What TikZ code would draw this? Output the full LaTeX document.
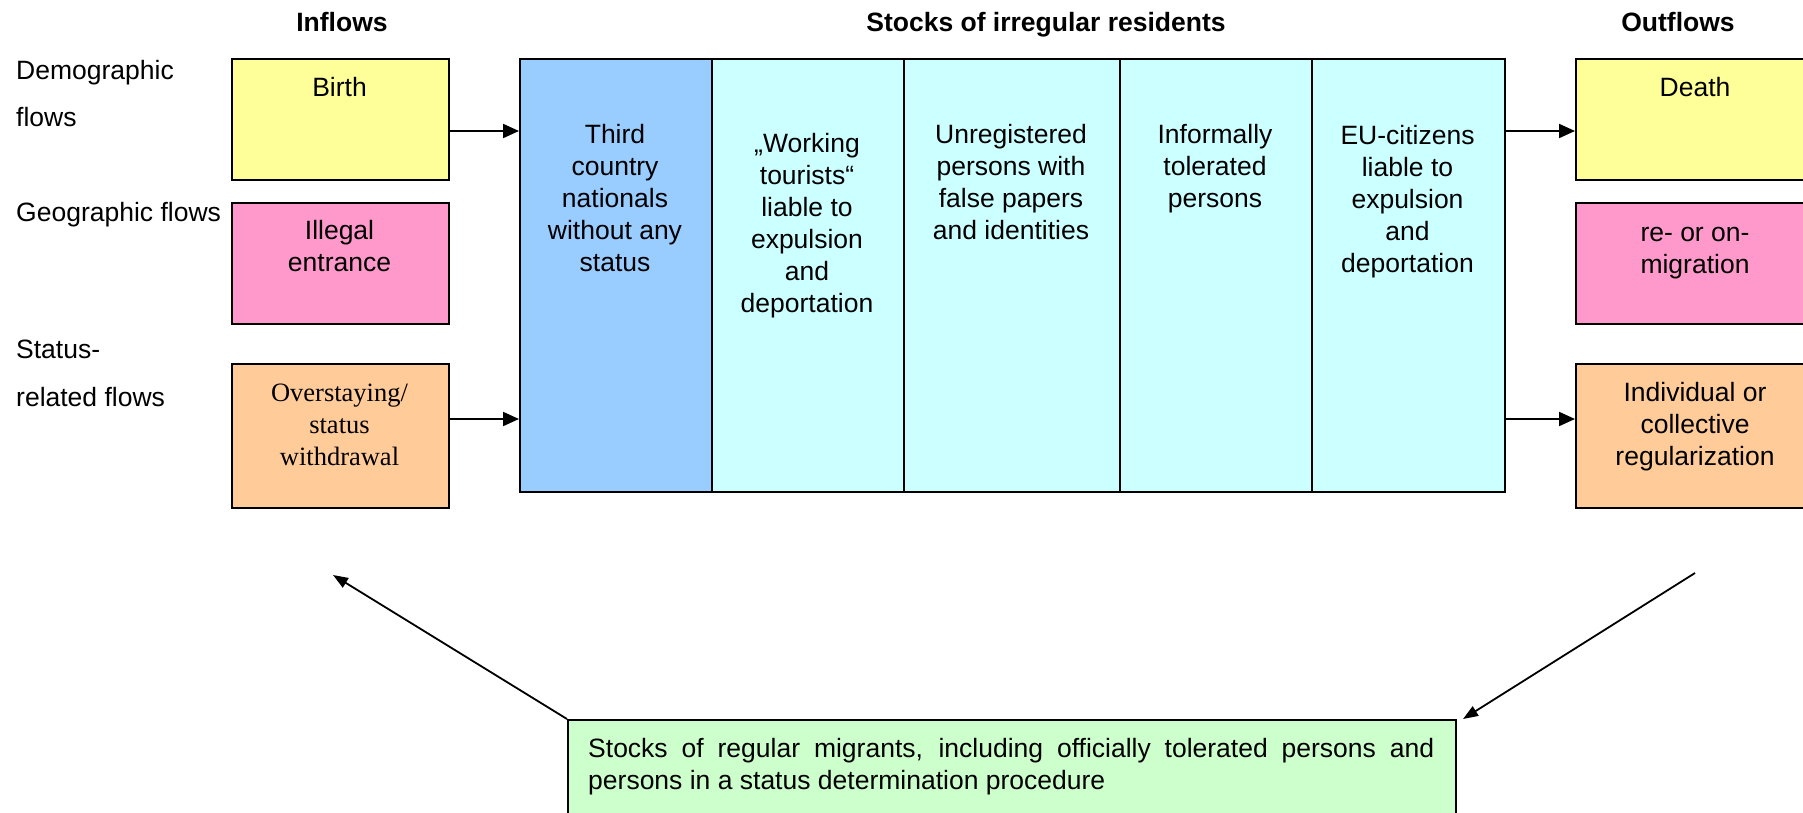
\documentclass[tikz,border=0pt]{standalone}
\usepackage{fontspec}
\setmainfont{Liberation Sans}
\newfontfamily\timesf{Liberation Serif}
\usetikzlibrary{arrows.meta}
\definecolor{cyel}{HTML}{FFFF99}
\definecolor{cpink}{HTML}{FF99CC}
\definecolor{corange}{HTML}{FFCC99}
\definecolor{cblue}{HTML}{99CCFF}
\definecolor{ccyan}{HTML}{CCFFFF}
\definecolor{cgreen}{HTML}{CCFFCC}
\begin{document}
\begin{tikzpicture}[x=1pt,y=-1pt,
  box/.style={draw=black, line width=2pt, inner sep=0pt, anchor=north west},
  txt/.style={font=\fontsize{26.5pt}{32pt}\selectfont, align=center, inner sep=0pt, anchor=north},
  tim/.style={font=\timesf\fontsize{26.5pt}{32pt}\selectfont, align=center, inner sep=0pt, anchor=north},
  lbl/.style={font=\fontsize{26.5pt}{32pt}\selectfont, align=left, inner sep=0pt, anchor=north west},
  ttl/.style={font=\fontsize{26.5pt}{32pt}\selectfont\bfseries, inner sep=0pt, anchor=base},
  arr/.style={line width=2pt, -{Triangle[length=16pt,width=14pt]}},
  arrd/.style={line width=1.8pt, -{Triangle[length=15pt,width=11pt]}}
]
\useasboundingbox (0,0) rectangle (1803,813);
\clip (0,0) rectangle (1803,813);
\fill[white] (0,0) rectangle (1803,813);

% titles
\node[ttl] (tin) at (342,32) {Inflows};
\node[ttl] (tstock) at (1046,32) {Stocks of irregular residents};
\node[ttl] (tout) at (1678,32) {Outflows};

% row labels
\node[lbl] (ldemo) at (16,57.1) {\strut Demographic\\[15pt]flows};
\node[lbl] (lgeo) at (16,199.1) {\strut Geographic flows};
\node[lbl] (lstat) at (16,336.1) {\strut Status-\\[16pt]related flows};

% inflow boxes
\node[box, fill=cyel, minimum width=217pt, minimum height=121pt] (birth) at (231,58) {};
\node[box, fill=cpink, minimum width=217pt, minimum height=121pt] (illegal) at (231,202) {};
\node[box, fill=corange, minimum width=217pt, minimum height=144pt] (over) at (231,363) {};
\node[txt] (tbirth) at (339.5,74.1) {\strut Birth};
\node[txt] (tillegal) at (339.5,217.1) {\strut Illegal\\entrance};
\node[tim] (tover) at (339.5,378.6) {\strut Overstaying/\\status\\withdrawal};

% stock columns
\node[box, fill=cblue, minimum width=192pt, minimum height=433pt] (third) at (519,58) {};
\node[box, fill=ccyan, minimum width=192pt, minimum height=433pt] (work) at (711,58) {};
\node[box, fill=ccyan, minimum width=216pt, minimum height=433pt] (unreg) at (903,58) {};
\node[box, fill=ccyan, minimum width=192pt, minimum height=433pt] (infor) at (1119,58) {};
\node[box, fill=ccyan, minimum width=193pt, minimum height=433pt] (eu) at (1311,58) {};
\node[txt] (tthird) at (615,121.1) {\strut Third\\country\\nationals\\without any\\status};
\node[txt] (twork) at (807,130.1) {\strut „Working\\tourists“\\liable to\\expulsion\\and\\deportation};
\node[txt] (tunreg) at (1011,121.1) {\strut Unregistered\\persons with\\false papers\\and identities};
\node[txt] (tinfor) at (1215,121.1) {\strut Informally\\tolerated\\persons};
\node[txt] (teu) at (1407.5,122.1) {\strut EU-citizens\\liable to\\expulsion\\and\\deportation};

% outflow boxes
\node[box, fill=cyel, minimum width=245pt, minimum height=121pt] (death) at (1575,58) {};
\node[box, fill=cpink, minimum width=245pt, minimum height=121pt] (remig) at (1575,202) {};
\node[box, fill=corange, minimum width=245pt, minimum height=144pt] (regul) at (1575,363) {};
\node[txt] (tdeath) at (1695,74.1) {\strut Death};
\node[txt] (tremig) at (1695,219.1) {\strut re- or on-\\migration};
\node[txt] (tregul) at (1695,379.1) {\strut Individual or\\collective\\regularization};

% regular migrants box
\node[box, fill=cgreen, minimum width=888pt, minimum height=140pt] (green) at (567,719) {};
\node[lbl] (tgreen) at (588,735.1) {\strut\makebox[846pt][s]{Stocks of regular migrants, including officially tolerated persons and}\\persons in a status determination procedure};

% horizontal arrows
\coordinate (a1) at ([yshift=-11.5pt]birth.east);
\draw[arr] (a1) -- (a1 -| third.west);
\coordinate (a2) at ([yshift=17pt]over.east);
\draw[arr] (a2) -- (a2 -| third.west);
\coordinate (a3) at ([yshift=-11.5pt]death.west);
\draw[arr] (a3 -| eu.east) -- (a3);
\coordinate (a4) at ([yshift=17pt]regul.west);
\draw[arr] (a4 -| eu.east) -- (a4);

% diagonal arrows
\coordinate (lt) at (333,575);
\draw[arrd] (green.north west) -- (lt);
\coordinate (rs) at (1695,573);
\draw[arrd] (rs) -- ([xshift=6pt]green.north east);
\end{tikzpicture}
\end{document}
